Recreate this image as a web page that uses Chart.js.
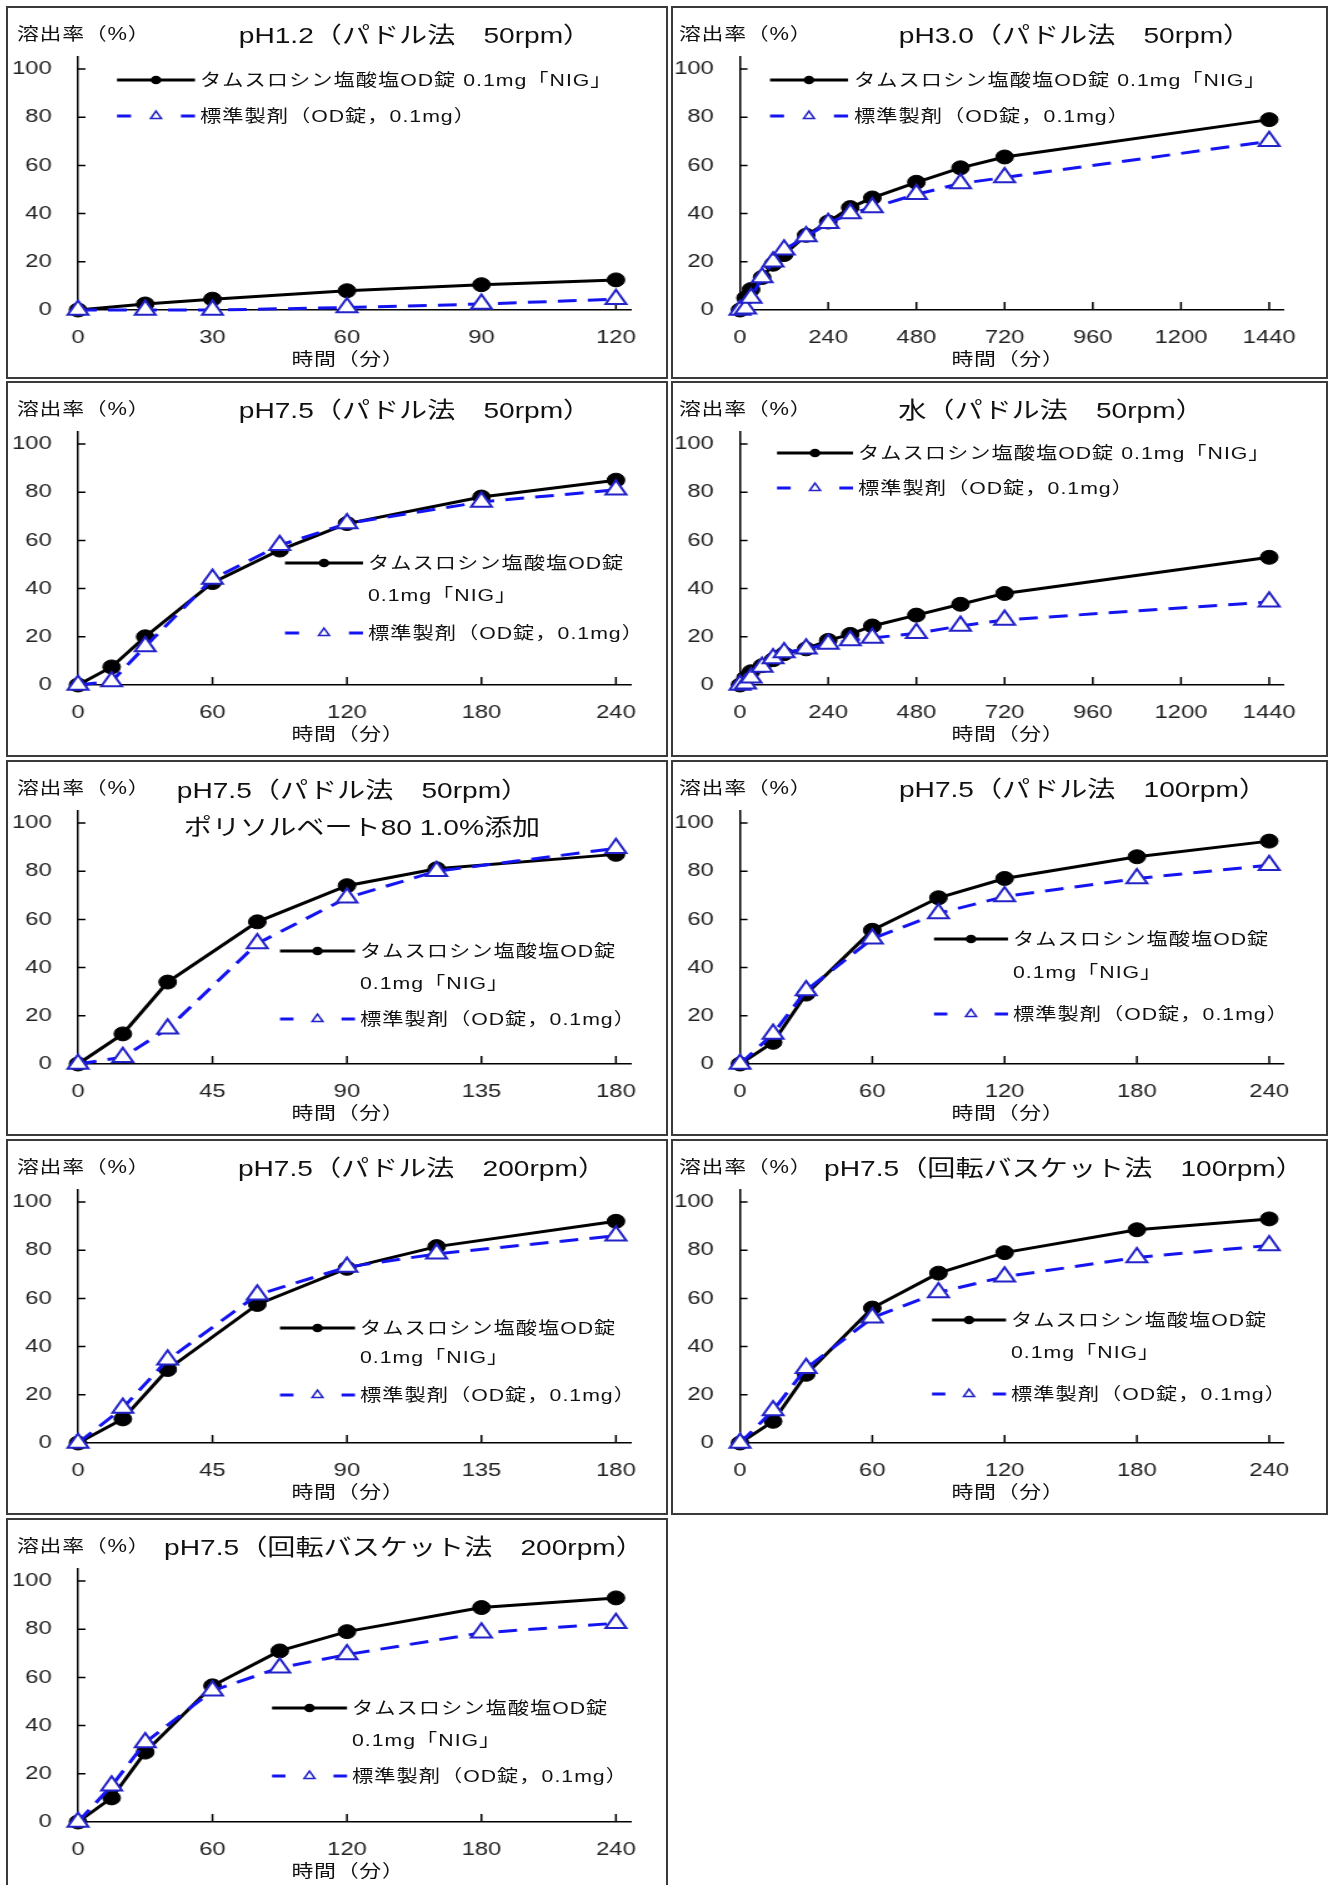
<!DOCTYPE html>
<html lang="ja">
<head>
<meta charset="utf-8">
<title>溶出挙動</title>
<script src="https://cdn.jsdelivr.net/npm/chart.js@4.4.1/dist/chart.umd.min.js"></script>
<style>
  html, body { margin: 0; padding: 0; background: #fff; }
  body { width: 1329px; height: 1885px; overflow: hidden; position: relative;
         font-family: "Liberation Sans", "Noto Sans CJK JP", sans-serif; color: #111; }
  .panel { position: absolute; box-sizing: border-box; border: 2px solid #3a3a3a; background: #fff; overflow: hidden; }
  .stage { position: absolute; left: 0; top: 0; transform-origin: 0 0; }
  .stage canvas { position: absolute; left: 0; top: 0; }
  .txt { position: absolute; white-space: nowrap; line-height: 1; transform: translateY(-50%); }
  .title { font-size: 22.5px; transform: translate(-50%, -50%); }
  .axt { font-size: 17.5px; letter-spacing: 0.6px; }
  .xlab { transform: translate(-50%, -50%); }
  .leg { font-size: 17px; letter-spacing: 0.8px; }
</style>
</head>
<body>
<script>
// sampling times (min)
const times6 = [0, 15, 30, 60, 90, 120];
const times7 = [0, 15, 30, 60, 90, 120, 180];
const times8 = [0, 15, 30, 60, 90, 120, 180, 240];
const times14 = [0, 15, 30, 60, 90, 120, 180, 240, 300, 360, 480, 600, 720, 1440];

// axis ticks
const xTicks120 = [0, 30, 60, 90, 120];
const xTicks180 = [0, 45, 90, 135, 180];
const xTicks240 = [0, 60, 120, 180, 240];
const xTicks1440 = [0, 240, 480, 720, 960, 1200, 1440];
const yTicks = [0, 20, 40, 60, 80, 100];

// series names
const seriesNames = ['タムスロシン塩酸塩OD錠 0.1mg「NIG」', '標準製剤（OD錠，0.1mg）'];

// dissolution (%) : test = OD錠 0.1mg「NIG」, ref = 標準製剤
const test_ph12 = [0, 2.5, 4.5, 8, 10.5, 12.5];
const ref_ph12 = [0, 0, 0, 1, 2.5, 4.5];

const test_ph30 = [0, 5, 8.5, 13.5, 19, 23, 31, 36.5, 42.5, 46.5, 53, 59, 63.5, 79];
const ref_ph30 = [0, 0.5, 5, 13.5, 20, 25, 30.5, 36, 40, 42.5, 48, 52.5, 55, 70];

const test_ph75 = [0, 7.5, 20, 42.5, 56, 67, 78, 85];
const ref_ph75 = [0, 1.5, 16, 44, 58, 67, 76, 81];

const test_water = [0, 3, 5.5, 8, 10.5, 13, 15, 18.5, 21, 24.5, 29, 33.5, 38, 53];
const ref_water = [0, 0.5, 3, 7.5, 11, 13.5, 15, 17, 18.5, 19.5, 21.5, 24.5, 27, 34.5];

const test_ps80 = [0, 12.5, 34, 59, 74, 81, 87];
const ref_ps80 = [0, 2.8, 14.6, 50, 69, 80, 89.5];

const test_p100 = [0, 9, 29, 55.5, 69, 77, 86, 92.5];
const ref_p100 = [0, 12.5, 30.5, 52, 62.5, 69.5, 77, 82.5];

const test_p200 = [0, 10, 30.5, 57.5, 72.5, 81.5, 92];
const ref_p200 = [0, 14.5, 34.5, 61.5, 73, 78.5, 86];

const test_b100 = [0, 9, 28.5, 56, 70.5, 79, 88.5, 93];
const ref_b100 = [0, 13.5, 31, 52, 62.5, 69, 77, 82];

const test_b200 = [0, 10, 29, 56.5, 71, 79, 89, 93];
const ref_b200 = [0, 15, 33, 54.5, 64, 69.5, 78.5, 82.5];

// the picture is stretched sideways, so every panel is drawn narrow and scaled
const S = 1.25;
const cols = [
    { x: 6, w: 662, L: 70, R: 623, ylabX: 9, xlabX: 340 },
    { x: 671, w: 657, L: 67, R: 611, ylabX: 6, xlabX: 335 }
];
const rows = [
    { y: 6, h: 373 }, { y: 381, h: 376 }, { y: 760, h: 376 }, { y: 1139, h: 376 }, { y: 1518, h: 376 }
];
const AXIS_BOTTOM = 302;
const AXIS_TOP = 49;

const panels = [
    { col: 0, row: 0, title: ['pH1.2（パドル法　50rpm）'], tx: [407], ty: [28],
      times: times6, test: test_ph12, ref: ref_ph12, xTicks: xTicks120,
      leg: { split: false, line: [109, 187], text: 192, y: [72, 108] } },
    { col: 1, row: 0, title: ['pH3.0（パドル法　50rpm）'], tx: [402], ty: [28],
      times: times14, test: test_ph30, ref: ref_ph30, xTicks: xTicks1440,
      leg: { split: false, line: [97, 175], text: 181, y: [72, 108] } },
    { col: 0, row: 1, title: ['pH7.5（パドル法　50rpm）'], tx: [407], ty: [28],
      times: times8, test: test_ph75, ref: ref_ph75, xTicks: xTicks240,
      leg: { split: true, line: [277, 355], text: 360, y: [180, 212, 250] } },
    { col: 1, row: 1, title: ['水（パドル法　50rpm）'], tx: [378], ty: [28],
      times: times14, test: test_water, ref: ref_water, xTicks: xTicks1440,
      leg: { split: false, line: [104, 180], text: 185, y: [70, 105] } },
    { col: 0, row: 2, title: ['pH7.5（パドル法　50rpm）', 'ポリソルベート80 1.0%添加'], tx: [345, 354], ty: [29, 66],
      times: times7, test: test_ps80, ref: ref_ps80, xTicks: xTicks180,
      leg: { split: true, line: [272, 347], text: 352, y: [189, 221, 257] } },
    { col: 1, row: 2, title: ['pH7.5（パドル法　100rpm）'], tx: [410], ty: [28],
      times: times8, test: test_p100, ref: ref_p100, xTicks: xTicks240,
      leg: { split: true, line: [261, 335], text: 340, y: [177, 210, 252] } },
    { col: 0, row: 3, title: ['pH7.5（パドル法　200rpm）'], tx: [414], ty: [28],
      times: times7, test: test_p200, ref: ref_p200, xTicks: xTicks180,
      leg: { split: true, line: [272, 347], text: 352, y: [187, 216, 254] } },
    { col: 1, row: 3, title: ['pH7.5（回転バスケット法　100rpm）'], tx: [391], ty: [28],
      times: times8, test: test_b100, ref: ref_b100, xTicks: xTicks240,
      leg: { split: true, line: [259, 333], text: 338, y: [179, 211, 253] } },
    { col: 0, row: 4, title: ['pH7.5（回転バスケット法　200rpm）'], tx: [396], ty: [28],
      times: times8, test: test_b200, ref: ref_b200, xTicks: xTicks240,
      leg: { split: true, line: [264, 339], text: 344, y: [188, 220, 256] } }
];

// tick marks pointing into the plot, like the spreadsheet original
const innerTicks = {
    id: 'innerTicks',
    beforeDatasetsDraw(chart) {
        const { ctx, chartArea: a, scales: { x, y } } = chart;
        ctx.save();
        ctx.strokeStyle = '#000';
        ctx.lineWidth = 1.5;
        ctx.beginPath();
        x.ticks.forEach(t => {
            const px = x.getPixelForValue(t.value);
            ctx.moveTo(px, a.bottom);
            ctx.lineTo(px, a.bottom - 8);
        });
        y.ticks.forEach(t => {
            const py = y.getPixelForValue(t.value);
            ctx.moveTo(a.left, py);
            ctx.lineTo(a.left + 6, py);
        });
        ctx.stroke();
        ctx.restore();
    }
};

// legend samples (line + marker); the legend words are html text
const sampleLegend = {
    id: 'sampleLegend',
    afterDatasetsDraw(chart, args, opts) {
        const ctx = chart.ctx;
        const len = opts.x2 - opts.x1;
        chart.data.datasets.forEach((ds, i) => {
            const y = opts.rows[i];
            ctx.save();
            ctx.strokeStyle = ds.borderColor;
            ctx.lineWidth = ds.borderWidth;
            ctx.setLineDash(ds.borderDash ? [len * 0.18, len * 0.64] : []);
            ctx.beginPath();
            ctx.moveTo(opts.x1, y);
            ctx.lineTo(opts.x2, y);
            ctx.stroke();
            ctx.setLineDash([]);
            ctx.fillStyle = ds.pointBackgroundColor;
            ctx.strokeStyle = ds.pointBorderColor;
            ctx.lineWidth = 1.5;
            Chart.helpers.drawPoint(ctx, {
                pointStyle: ds.pointStyle, rotation: 0,
                radius: ds.pointStyle === 'circle' ? 3.5 : 5, borderWidth: 1.5
            }, opts.x1 + len / 2, y);
            ctx.restore();
        });
    }
};

function addText(parent, cls, text, x, y) {
    const d = document.createElement('div');
    d.className = 'txt ' + cls;
    d.textContent = text;
    d.style.left = x + 'px';
    d.style.top = y + 'px';
    parent.appendChild(d);
}

function buildPanel(p) {
    const c = cols[p.col], r = rows[p.row];
    const box = document.createElement('div');
    box.className = 'panel';
    box.style.left = c.x + 'px';
    box.style.top = r.y + 'px';
    box.style.width = c.w + 'px';
    box.style.height = r.h + 'px';
    document.body.appendChild(box);

    const cw = Math.round((c.w - 4) / S);
    const ch = r.h - 4;
    const stage = document.createElement('div');
    stage.className = 'stage';
    stage.style.width = cw + 'px';
    stage.style.height = ch + 'px';
    stage.style.transform = 'scaleX(' + S + ')';
    box.appendChild(stage);

    const canvas = document.createElement('canvas');
    canvas.width = cw;
    canvas.height = ch;
    stage.appendChild(canvas);

    // texts
    p.title.forEach((t, i) => addText(stage, 'title', t, p.tx[i] / S, p.ty[i]));
    addText(stage, 'axt', '溶出率（%）', c.ylabX / S, 27);
    addText(stage, 'axt xlab', '時間（分）', c.xlabX / S, 352);
    const lg = p.leg;
    if (lg.split) {
        const parts = seriesNames[0].split(' ');
        addText(stage, 'leg', parts[0], lg.text / S, lg.y[0]);
        addText(stage, 'leg', parts[1], lg.text / S, lg.y[1]);
        addText(stage, 'leg', seriesNames[1], lg.text / S, lg.y[2]);
    } else {
        addText(stage, 'leg', seriesNames[0], lg.text / S, lg.y[0]);
        addText(stage, 'leg', seriesNames[1], lg.text / S, lg.y[1]);
    }
    const sampleRows = lg.split ? [lg.y[0], lg.y[2]] : [lg.y[0], lg.y[1]];

    const xMax = p.xTicks[p.xTicks.length - 1] * 1.028;
    const tickFont = { family: 'Liberation Sans', size: 19 };

    new Chart(canvas, {
        type: 'line',
        data: {
            datasets: [{
                label: seriesNames[0],
                data: p.times.map((t, i) => ({ x: t, y: p.test[i] })),
                borderColor: '#000',
                borderWidth: 3,
                pointStyle: 'circle',
                pointRadius: 7,
                pointBackgroundColor: '#000',
                pointBorderColor: '#000',
                pointBorderWidth: 1,
                order: 1,
                clip: false
            }, {
                label: seriesNames[1],
                data: p.times.map((t, i) => ({ x: t, y: p.ref[i] })),
                borderColor: '#1414f0',
                borderWidth: 3,
                borderDash: [15, 9],
                pointStyle: 'triangle',
                pointRadius: 9.5,
                pointBackgroundColor: '#fff',
                pointBorderColor: '#2323c8',
                pointBorderWidth: 2,
                order: 0,
                clip: false
            }]
        },
        options: {
            responsive: false,
            animation: false,
            devicePixelRatio: 1,
            events: [],
            layout: { padding: { top: AXIS_TOP, right: cw - c.R / S, bottom: 0, left: 0 } },
            plugins: {
                legend: { display: false },
                tooltip: { enabled: false },
                sampleLegend: { x1: lg.line[0] / S, x2: lg.line[1] / S, rows: sampleRows }
            },
            scales: {
                x: {
                    type: 'linear',
                    min: 0,
                    max: xMax,
                    afterBuildTicks: ax => { ax.ticks = p.xTicks.map(v => ({ value: v })); },
                    afterFit: s => { s.height = ch - AXIS_BOTTOM; },
                    grid: { display: false, drawTicks: false },
                    border: { display: true, color: '#000', width: 1.5 },
                    ticks: { padding: 16, color: '#222', font: tickFont, maxRotation: 0, autoSkip: false,
                             callback: v => String(v) }
                },
                y: {
                    min: 0,
                    max: 105,
                    afterBuildTicks: ax => { ax.ticks = yTicks.map(v => ({ value: v })); },
                    afterFit: s => { s.width = c.L / S; },
                    grid: { display: false, drawTicks: false },
                    border: { display: true, color: '#000', width: 1.5 },
                    ticks: { padding: 21, color: '#222', font: tickFont, autoSkip: false,
                             callback: v => String(v) }
                }
            }
        },
        plugins: [innerTicks, sampleLegend]
    });
}

panels.forEach(buildPanel);
</script>
</body>
</html>
